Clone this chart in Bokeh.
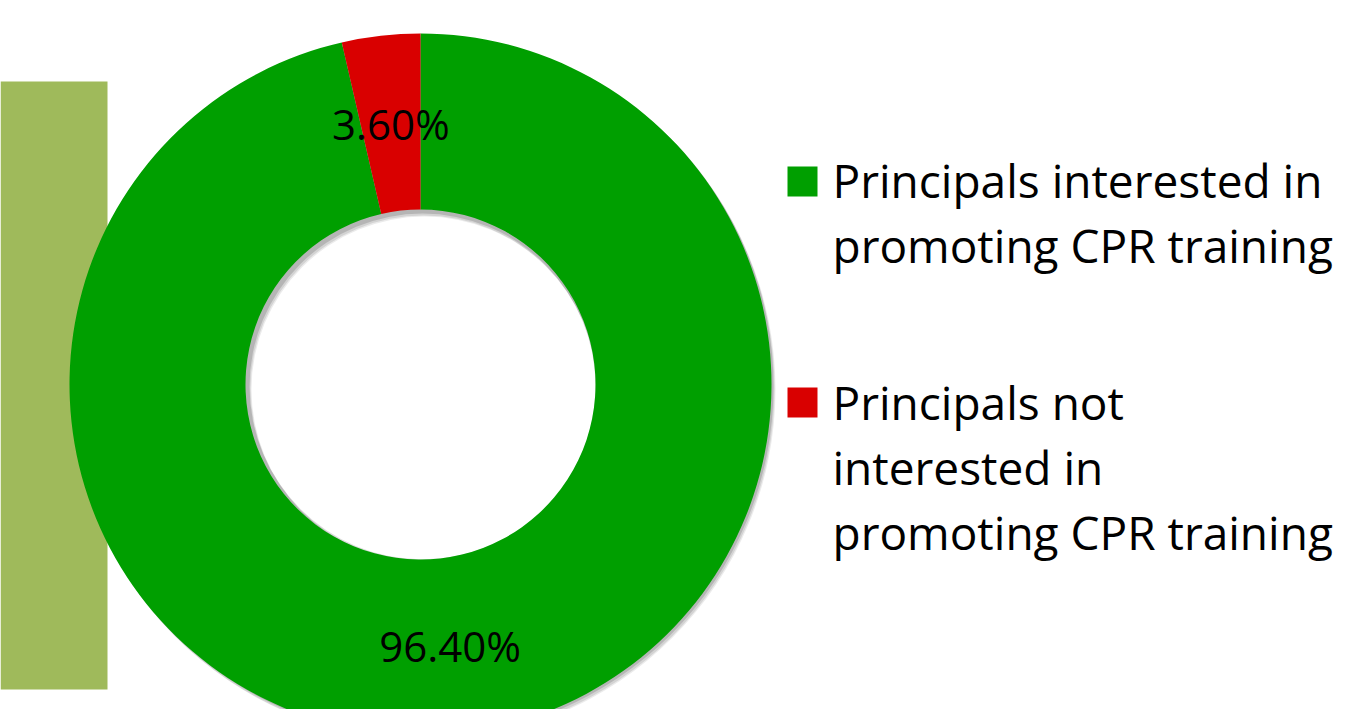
import math
from bokeh.plotting import figure
from bokeh.models import Range1d
from bokeh.core.properties import value
from bokeh.embed import file_html
from bokeh.resources import INLINE

# ---- data ----
categories = ["Principals interested in promoting CPR training",
              "Principals not interested in promoting CPR training"]
shares = [96.40, 3.60]
pct_labels = ["96.40%", "3.60%"]
legend_lines = [["Principals interested in", "promoting CPR training"],
                ["Principals not", "interested in", "promoting CPR training"]]
colors = ["#009F00", "#D90000"]

W, H = 1344, 709


def py(page_y):
    """screen pixel y (from top of figure) -> data y"""
    return H - page_y


p = figure(width=W, height=H, output_backend="svg", toolbar_location=None,
           x_range=Range1d(0, W), y_range=Range1d(0, H), min_border=0)
p.axis.visible = False
p.grid.visible = False
p.outline_line_color = None
p.background_fill_color = "white"
p.border_fill_color = "white"

# decorative block on the left
p.quad(left=0, right=107, top=py(81), bottom=py(689), fill_color="#9FBA5B", line_color=None)

cx, cy = 420, py(384)
r_out, r_in = 351, 175

# soft shadow
for dx, dy, a in [(4, -5, 0.08), (3, -4, 0.10), (2, -2, 0.14)]:
    p.annulus(x=cx + dx, y=cy + dy, inner_radius=r_in - 2, outer_radius=r_out,
              fill_color="#000000", fill_alpha=a, line_color=None)

# wedges: clockwise from 12 o'clock
total = sum(shares)
start = math.pi / 2
starts, ends, lx, ly = [], [], [], []
for s in shares:
    sweep = 2 * math.pi * s / total
    end = start - sweep
    starts.append(start)
    ends.append(end)
    mid = (start + end) / 2
    rm = (r_out + r_in) / 2
    lx.append(cx + rm * math.cos(mid))
    ly.append(cy + rm * math.sin(mid))
    start = end

p.annular_wedge(x=cx, y=cy, inner_radius=r_in, outer_radius=r_out,
                start_angle=starts, end_angle=ends, direction="clock",
                fill_color=colors, line_color=None)

p.text(x=lx, y=ly, text=pct_labels, text_align="center", text_baseline="middle",
       text_font=value("Open Sans"), text_font_size="42px", text_color="#000000")

# legend
sq_centers = [181, 402]
first_line = [179, 401]
line_gap = 65
for i, lines in enumerate(legend_lines):
    p.rect(x=802, y=py(sq_centers[i]), width=30, height=30, fill_color=colors[i], line_color=None)
    ys = [py(first_line[i] + k * line_gap) for k in range(len(lines))]
    p.text(x=[832] * len(lines), y=ys, text=lines, text_align="left",
           text_baseline="middle", text_font=value("Open Sans"),
           text_font_size="46px", text_color="#000000")

open("out.html", "w").write(file_html(p, INLINE))
